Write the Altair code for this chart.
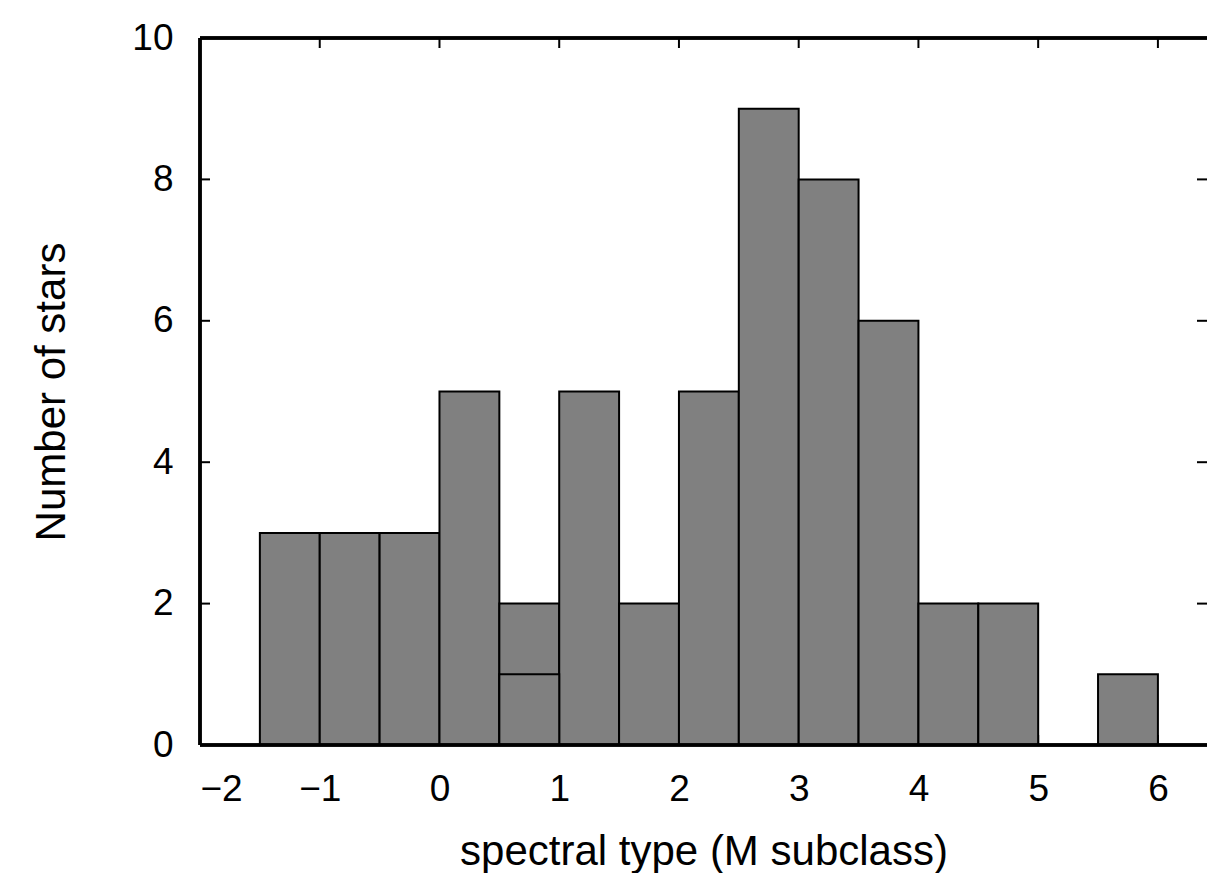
import altair as alt
import pandas as pd

bin_start = [-1.5, -1.0, -0.5, 0.0, 0.5, 1.0, 1.5, 2.0, 2.5, 3.0, 3.5, 4.0, 4.5, 5.5]
bin_end = [-1.0, -0.5, 0.0, 0.5, 1.0, 1.5, 2.0, 2.5, 3.0, 3.5, 4.0, 4.5, 5.0, 6.0]
counts = [3, 3, 3, 5, 2, 5, 2, 5, 9, 8, 6, 2, 2, 1]

# second (overlaid) histogram bin
over_start = [0.5]
over_end = [1.0]
over_counts = [1]

x_ticks = [-2, -1, 0, 1, 2, 3, 4, 5, 6]
y_ticks = [0, 2, 4, 6, 8, 10]

W = 1007
H = 707
FONT = "Liberation Sans"
LBL = 37
TTL = 42

bars = pd.DataFrame({"x0": bin_start, "x1": bin_end, "n": counts})
over = pd.DataFrame({"x0": over_start, "x1": over_end, "n": over_counts})
xt = pd.DataFrame({"v": x_ticks})
yt = pd.DataFrame({"v": y_ticks})

xscale = alt.Scale(domain=[-2, 6.41], nice=False, zero=False)
yscale = alt.Scale(domain=[0, 10], nice=False)

xaxis = alt.Axis(values=x_ticks, format="d", ticks=False, domain=False, grid=False,
                 labelFont=FONT, labelFontSize=LBL, labelColor="black", labelPadding=26,
                 title="spectral type (M subclass)", titleFont=FONT, titleFontSize=TTL,
                 titleFontWeight="normal", titleColor="black", titlePadding=24)
yaxis = alt.Axis(values=y_ticks, format="d", ticks=False, domain=False, grid=False,
                 labelFont=FONT, labelFontSize=LBL, labelColor="black", labelPadding=27,
                 title="Number of stars", titleFont=FONT, titleFontSize=TTL,
                 titleFontWeight="normal", titleColor="black", titlePadding=58)

base_bars = alt.Chart(bars).mark_bar(color="#808080", stroke="black", strokeWidth=2).encode(
    x=alt.X("x0:Q", scale=xscale, axis=xaxis),
    x2="x1:Q",
    y=alt.Y("n:Q", scale=yscale, axis=yaxis),
    y2=alt.datum(0),
)

over_bars = alt.Chart(over).mark_bar(color="#808080", stroke="black", strokeWidth=2).encode(
    x=alt.X("x0:Q", scale=xscale),
    x2="x1:Q",
    y=alt.Y("n:Q", scale=yscale),
    y2=alt.datum(0),
)

tick_style = dict(color="black", strokeWidth=2)
xt_bottom = alt.Chart(xt).mark_rule(**tick_style).encode(
    x=alt.X("v:Q", scale=xscale), y=alt.value(H), y2=alt.value(H - 10))
xt_top = alt.Chart(xt).mark_rule(**tick_style).encode(
    x=alt.X("v:Q", scale=xscale), y=alt.value(0), y2=alt.value(10))
yt_left = alt.Chart(yt).mark_rule(**tick_style).encode(
    y=alt.Y("v:Q", scale=yscale), x=alt.value(0), x2=alt.value(10))
yt_right = alt.Chart(yt).mark_rule(**tick_style).encode(
    y=alt.Y("v:Q", scale=yscale), x=alt.value(W - 10), x2=alt.value(W))

frame_style = dict(color="black", strokeWidth=2.5)
frame_top = alt.Chart(xt).mark_rule(**frame_style).encode(
    x=alt.value(0), x2=alt.value(W), y=alt.value(0))
frame_bottom = alt.Chart(xt).mark_rule(**frame_style).encode(
    x=alt.value(0), x2=alt.value(W), y=alt.value(H))
frame_left = alt.Chart(xt).mark_rule(**frame_style).encode(
    x=alt.value(0), y=alt.value(0), y2=alt.value(H))

chart = alt.layer(
    xt_bottom, xt_top, yt_left, yt_right, base_bars, over_bars,
    frame_top, frame_bottom, frame_left,
).properties(
    width=W, height=H,
    autosize=alt.AutoSizeParams(type="none"),
    padding={"left": 192, "top": 30, "right": 0, "bottom": 128},
).configure(background="white").configure_view(stroke=None)

chart.save("out.html", embed_options={"renderer": "svg", "actions": False})
